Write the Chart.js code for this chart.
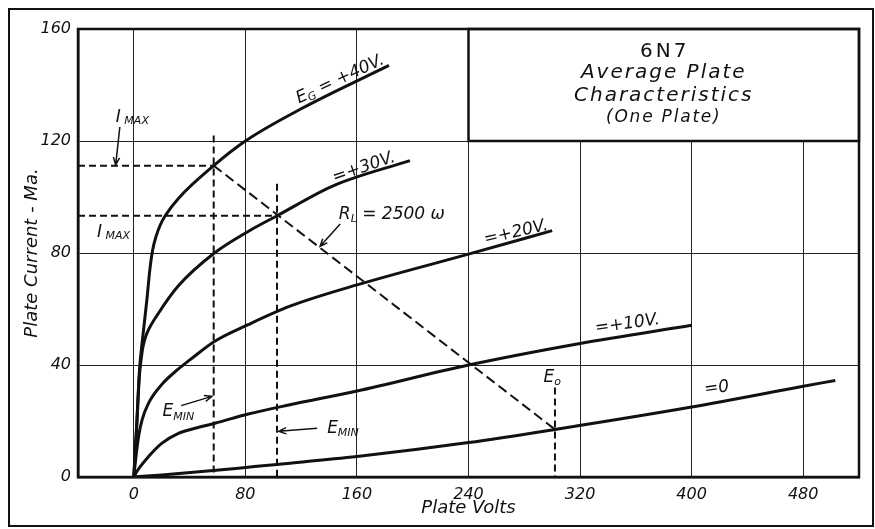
<!DOCTYPE html>
<html>
<head>
<meta charset="utf-8">
<script src="https://cdn.jsdelivr.net/npm/chart.js@4.4.1/dist/chart.umd.min.js"></script>
<style>
  html, body { margin: 0; padding: 0; background: #fff; }
</style>
</head>
<body>
<canvas id="tubeChart" width="875" height="529"></canvas>
<script>
// axis ticks
const xTicks = [0, 80, 160, 240, 320, 400, 480];
const yTicks = [0, 40, 80, 120, 160];

// plate volts / plate current (mA), one pair per grid voltage
const eg40Volts = [0, 2, 4.1, 6.2, 9.4, 11.5, 13.5, 16, 19, 22.5, 32, 57.3, 80, 120, 183];
const eg40Amps = [0, 18, 38.3, 49, 63.3, 74, 81, 86, 90, 93.3, 99.5, 111.2, 120, 131.5, 147];
const eg30Volts = [0, 2, 4, 6.2, 7.8, 10, 17.7, 32, 57.8, 82, 102.7, 143, 198];
const eg30Amps = [0, 17, 36, 45.4, 49, 52, 58.5, 68.3, 80, 87.7, 93.3, 104, 113];
const eg20Volts = [0, 1.5, 3.4, 6, 10.6, 20, 32, 40.4, 57.8, 82, 112, 160, 240, 300];
const eg20Amps = [0, 7, 14.4, 20.5, 26.4, 33, 38.6, 41.9, 48.4, 54.4, 61, 68.6, 79.6, 88];
const eg10Volts = [0, 3, 10.6, 20, 32, 44, 58.3, 82, 112, 160, 240, 320, 400];
const eg10Amps = [0, 2.6, 7.3, 12, 15.6, 17.4, 19.2, 22.5, 25.8, 30.7, 40, 47.7, 54.2];
const eg0Volts = [0, 20, 55, 82, 102.7, 160, 240, 302, 400, 480, 503];
const eg0Amps = [0, 0.7, 2.2, 3.5, 4.5, 7.3, 12.3, 17, 25, 32.4, 34.5];

// load line R_L = 2500 ohm and the construction lines
const loadVolts = [57.3, 302];
const loadAmps = [111.2, 17];
const imax1Volts = [-40, 57.3];
const imax1Amps = [111.2, 111.2];
const emin1Volts = [57.3, 57.3];
const emin1Amps = [122, 0];
const imax2Volts = [-40, 102.7];
const imax2Amps = [93.3, 93.3];
const emin2Volts = [102.7, 102.7];
const emin2Amps = [104.7, 0];
const e0Volts = [302, 302];
const e0Amps = [32, 0];

const fam = "'DejaVu Sans', sans-serif";
const ink = '#111';

function pts(xs, ys) {
  return xs.map((x, i) => ({ x: x, y: ys[i] }));
}

function curve(label, xs, ys) {
  return {
    label: label,
    data: pts(xs, ys),
    showLine: true,
    borderColor: ink,
    borderWidth: 3,
    pointRadius: 0,
    cubicInterpolationMode: 'monotone',
  };
}

function dashed(label, xs, ys, dash) {
  return {
    label: label,
    data: pts(xs, ys),
    showLine: true,
    borderColor: ink,
    borderWidth: 2,
    borderDash: dash || [7, 4],
    pointRadius: 0,
  };
}

// text with subscripts; parts = [text, size, drop]
function rich(ctx, parts, x, y, angle) {
  ctx.save();
  ctx.translate(x, y);
  ctx.rotate((angle || 0) * Math.PI / 180);
  ctx.textBaseline = 'middle';
  ctx.textAlign = 'left';
  ctx.fillStyle = ink;
  let total = 0;
  parts.forEach(p => {
    ctx.font = `italic ${p[1]}px ${fam}`;
    total += ctx.measureText(p[0]).width;
  });
  let cx = -total / 2;
  parts.forEach(p => {
    ctx.font = `italic ${p[1]}px ${fam}`;
    ctx.fillText(p[0], cx, p[2] || 0);
    cx += ctx.measureText(p[0]).width;
  });
  ctx.restore();
}

function arrow(ctx, x1, y1, x2, y2) {
  const a = Math.atan2(y2 - y1, x2 - x1);
  ctx.save();
  ctx.strokeStyle = ink;
  ctx.lineWidth = 1.5;
  ctx.beginPath();
  ctx.moveTo(x1, y1);
  ctx.lineTo(x2, y2);
  ctx.moveTo(x2 - 8 * Math.cos(a - 0.4), y2 - 8 * Math.sin(a - 0.4));
  ctx.lineTo(x2, y2);
  ctx.lineTo(x2 - 8 * Math.cos(a + 0.4), y2 - 8 * Math.sin(a + 0.4));
  ctx.stroke();
  ctx.restore();
}

const labelPlugin = {
  id: 'labels',
  beforeDatasetsDraw(chart) {
    const { ctx, scales: { x, y } } = chart;
    // title box over the top-right grid
    const l = x.getPixelForValue(240), r = x.getPixelForValue(520);
    const t = y.getPixelForValue(160), b = y.getPixelForValue(120);
    ctx.save();
    ctx.fillStyle = '#fff';
    ctx.fillRect(l, t, r - l, b - t);
    ctx.strokeStyle = ink;
    ctx.lineWidth = 2.5;
    ctx.strokeRect(l, t, r - l, b - t);
    ctx.fillStyle = ink;
    ctx.textAlign = 'center';
    ctx.textBaseline = 'middle';
    const cx = (l + r) / 2;
    ctx.letterSpacing = '3px';
    ctx.font = `20px ${fam}`;
    ctx.fillText('6N7', cx + 1, y.getPixelForValue(152));
    ctx.letterSpacing = '2px';
    ctx.font = `italic 20px ${fam}`;
    ctx.fillText('Average Plate', cx, y.getPixelForValue(144.3));
    ctx.fillText('Characteristics', cx, y.getPixelForValue(136.2));
    ctx.letterSpacing = '1.8px';
    ctx.font = `italic 17px ${fam}`;
    ctx.fillText('(One Plate)', cx, y.getPixelForValue(128.3));
    ctx.letterSpacing = '0px';
    ctx.restore();
  },
  afterDatasetsDraw(chart) {
    const { ctx, chartArea: ca, scales: { x, y } } = chart;
    const px = v => x.getPixelForValue(v);
    const py = v => y.getPixelForValue(v);

    ctx.save();
    ctx.strokeStyle = ink;
    ctx.lineWidth = 2.5;
    ctx.strokeRect(ca.left, ca.top, ca.right - ca.left, ca.bottom - ca.top);
    ctx.lineWidth = 2;
    ctx.strokeRect(9, 9, 864, 517);
    ctx.restore();

    rich(ctx, [['E', 17], ['G', 11, 4], [' = +40V.', 17]], px(148), py(142), -25);
    rich(ctx, [['=+30V.', 17]], px(165), py(110.5), -19);
    rich(ctx, [['R', 17], ['L', 11, 5], [' = 2500 ', 17], ['\u03c9', 17]], px(185), py(93.7), 0);
    rich(ctx, [['=+20V.', 17]], px(274), py(87.3), -13);
    rich(ctx, [['=+10V.', 17]], px(354), py(54.6), -8);
    rich(ctx, [['=0', 17]], px(418), py(31.7), -8);
    rich(ctx, [['E', 17], ['o', 11, 5]], px(300), py(35.6), 0);
    rich(ctx, [['I', 17], [' MAX', 11, 4]], px(-1), py(128.5), 0);
    rich(ctx, [['I', 17], [' MAX', 11, 4]], px(-14.5), py(87.4), 0);
    rich(ctx, [['E', 17], ['MIN', 11, 5]], px(32), py(23.3), 0);
    rich(ctx, [['E', 17], ['MIN', 11, 5]], px(150), py(17.3), 0);

    arrow(ctx, px(-10), py(125), px(-13), py(111.5));
    arrow(ctx, px(34), py(25.5), px(56), py(28.8));
    arrow(ctx, px(131.5), py(17.4), px(104), py(16.3));
    arrow(ctx, px(148), py(90.4), px(133.6), py(82.4));
  }
};

new Chart(document.getElementById('tubeChart'), {
  type: 'scatter',
  data: {
    datasets: [
      curve('Eg +40 V', eg40Volts, eg40Amps),
      curve('Eg +30 V', eg30Volts, eg30Amps),
      curve('Eg +20 V', eg20Volts, eg20Amps),
      curve('Eg +10 V', eg10Volts, eg10Amps),
      curve('Eg 0 V', eg0Volts, eg0Amps),
      dashed('RL 2500', loadVolts, loadAmps, [10, 5]),
      dashed('Imax 1', imax1Volts, imax1Amps),
      dashed('Emin 1', emin1Volts, emin1Amps),
      dashed('Imax 2', imax2Volts, imax2Amps),
      dashed('Emin 2', emin2Volts, emin2Amps),
      dashed('E0', e0Volts, e0Amps),
    ],
  },
  plugins: [labelPlugin],
  options: {
    responsive: false,
    animation: false,
    layout: { padding: { top: 29, right: 16, left: 0, bottom: 0 } },
    plugins: {
      legend: { display: false },
      tooltip: { enabled: false },
    },
    scales: {
      x: {
        type: 'linear',
        min: -40,
        max: 520,
        afterBuildTicks: s => { s.ticks = xTicks.map(v => ({ value: v })); },
        afterFit: s => { s.height = 52; },
        grid: { color: '#222', lineWidth: 1, drawTicks: false },
        border: { color: ink, width: 2.5 },
        ticks: {
          color: ink,
          padding: 8,
          maxRotation: 0,
          font: { family: fam, size: 16, style: 'italic' },
        },
        title: {
          display: true,
          text: 'Plate Volts',
          color: ink,
          padding: { top: 0, bottom: 10 },
          font: { family: fam, size: 18, style: 'italic' },
        },
      },
      y: {
        min: 0,
        max: 160,
        afterBuildTicks: s => { s.ticks = yTicks.map(v => ({ value: v })); },
        afterFit: s => { s.width = 78; },
        grid: { color: '#222', lineWidth: 1, drawTicks: false },
        border: { color: ink, width: 2.5 },
        ticks: {
          color: ink,
          padding: 7,
          font: { family: fam, size: 16, style: 'italic' },
        },
        title: {
          display: true,
          text: 'Plate Current - Ma.',
          color: ink,
          padding: { top: 22, bottom: 0 },
          font: { family: fam, size: 18, style: 'italic' },
        },
      },
    },
  },
});
</script>
</body>
</html>
